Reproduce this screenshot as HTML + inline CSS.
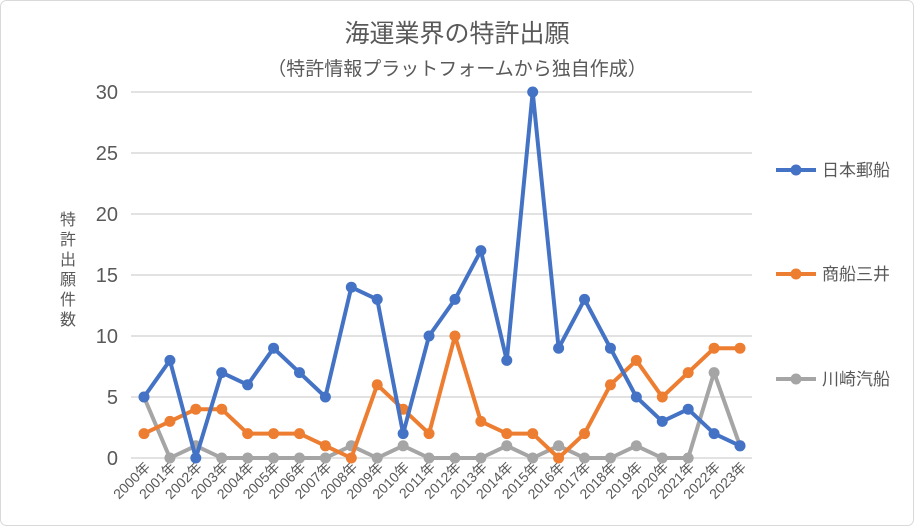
<!DOCTYPE html>
<html><head><meta charset="utf-8">
<style>
html,body{margin:0;padding:0;background:#fff;}
body{width:914px;height:526px;overflow:hidden;font-family:"Liberation Sans","Noto Sans CJK JP",sans-serif;}
</style></head>
<body>
<svg id="chart" width="914" height="526" xmlns="http://www.w3.org/2000/svg" font-family="Liberation Sans, Noto Sans CJK JP, sans-serif">
<rect x="0.5" y="0.5" width="913" height="525" rx="6" fill="#fff" stroke="#d9d9d9"/>
<text x="457" y="42" text-anchor="middle" font-size="25" fill="#595959">海運業界の特許出願</text>
<text x="457" y="75" text-anchor="middle" font-size="19" fill="#595959">（特許情報プラットフォームから独自作成）</text>
<g font-size="16" fill="#595959" text-anchor="middle">
<text x="68" y="225">特</text><text x="68" y="245">許</text><text x="68" y="265">出</text><text x="68" y="285">願</text><text x="68" y="305">件</text><text x="68" y="325">数</text>
</g>
<g id="grid"></g><g id="xlabels"></g><g id="series"></g><g id="legend"></g>
</svg>
<script>
const years=["2000年","2001年","2002年","2003年","2004年","2005年","2006年","2007年","2008年","2009年","2010年","2011年","2012年","2013年","2014年","2015年","2016年","2017年","2018年","2019年","2020年","2021年","2022年","2023年"];
const nyk=[5,8,0,7,6,9,7,5,14,13,2,10,13,17,8,30,9,13,9,5,3,4,2,1];
const mol=[2,3,4,4,2,2,2,1,0,6,4,2,10,3,2,2,0,2,6,8,5,7,9,9];
const kline=[5,0,1,0,0,0,0,0,1,0,1,0,0,0,1,0,1,0,0,1,0,0,7,1];
const yTicks=[0,5,10,15,20,25,30];
const seriesNames=["日本郵船","商船三井","川崎汽船"];
const NS="http://www.w3.org/2000/svg";
const x0=144,x1=740,yB=458,yT=92,yMax=30;
const xs=i=>x0+(x1-x0)*i/(years.length-1);
const ys=v=>yB-(yB-yT)*v/yMax;
function mk(t,a,p){const e=document.createElementNS(NS,t);for(const k in a)e.setAttribute(k,a[k]);p.appendChild(e);return e;}
const grid=document.getElementById('grid');
yTicks.forEach(v=>{
 const l=mk('line',{x1:131,x2:752,y1:ys(v),y2:ys(v),stroke:'#d9d9d9','stroke-width':1.5},grid);
 
 
 const t=mk('text',{x:118,y:ys(v)+7,'text-anchor':'end','font-size':20,fill:'#595959'},grid);
 t.textContent=v;
 
 
});
const xl=document.getElementById('xlabels');
years.forEach((y,i)=>{
 const t=mk('text',{x:xs(i)+7,y:468,'text-anchor':'end','font-size':14,fill:'#595959',transform:`rotate(-45 ${xs(i)+7} 468)`},xl);
 t.textContent=y;
 
 
});
const colors=['#4472c4','#ed7d31','#a5a5a5'];
const sg=document.getElementById('series');
[kline,mol,nyk].forEach((d,k)=>{
 const idx=2-k;
 const g=mk('g',{},sg);
 
 
 mk('polyline',{points:d.map((v,i)=>xs(i)+','+ys(v)).join(' '),fill:'none',stroke:colors[idx],'stroke-width':4,'stroke-linejoin':'round'},g);
 d.forEach((v,i)=>{
  const c=mk('circle',{cx:xs(i),cy:ys(v),r:5.5,fill:colors[idx]},g);
  
  
 });
});
const lg=document.getElementById('legend');
[170,274,379].forEach((y,i)=>{
 const g=mk('g',{},lg);
 
 
 mk('line',{x1:776,x2:816,y1:y,y2:y,stroke:colors[i],'stroke-width':4},g);
 mk('circle',{cx:796,cy:y,r:5.5,fill:colors[i]},g);
 const t=mk('text',{x:822,y:y+6,'font-size':17,fill:'#595959'},g);
 t.textContent=seriesNames[i];
});
</script>
</body></html>
